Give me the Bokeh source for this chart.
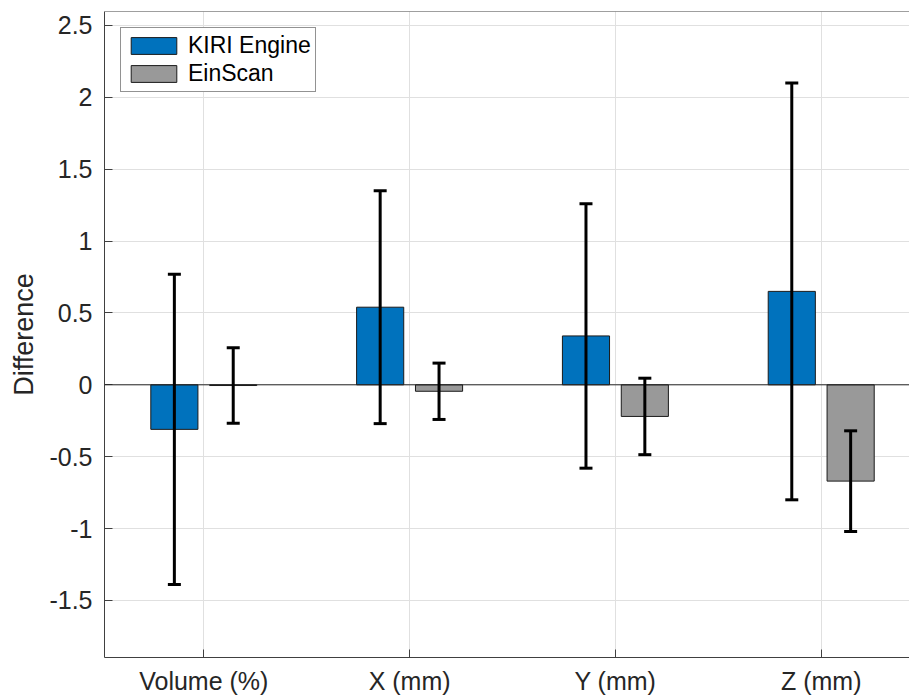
from bokeh.plotting import figure
from bokeh.models import (ColumnDataSource, Whisker, TeeHead, Span, FixedTicker,
                          Range1d)
from bokeh.embed import file_html
from bokeh.resources import INLINE

# ---- data ----
categories = ["Volume (%)", "X (mm)", "Y (mm)", "Z (mm)"]
series_names = ["KIRI Engine", "EinScan"]
kiri_mean = [-0.31, 0.54, 0.34, 0.65]
kiri_err = [1.08, 0.81, 0.92, 1.45]
einscan_mean = [-0.005, -0.045, -0.22, -0.67]
einscan_err = [0.262, 0.196, 0.266, 0.35]
y_ticks = [-1.5, -1.0, -0.5, 0.0, 0.5, 1.0, 1.5, 2.0, 2.5]
y_tick_labels = ["-1.5", "-1", "-0.5", "0", "0.5", "1", "1.5", "2", "2.5"]
colors = ["#0072BD", "#999999"]

FONT = "Liberation Sans"
TXT = "#262626"

idx = list(range(1, len(categories) + 1))
offset = 0.143
bar_w = 0.229

p = figure(width=909, height=698, output_backend="svg", toolbar_location=None,
           x_range=Range1d(0.5175, 4.429), y_range=Range1d(-1.897, 2.597),
           min_border_left=104, min_border_top=11, min_border_bottom=41,
           min_border_right=0)
p.outline_line_color = None
p.background_fill_color = "white"

srcs = []
for k, (means, errs) in enumerate([(kiri_mean, kiri_err), (einscan_mean, einscan_err)]):
    xs = [i + (offset if k else -offset) for i in idx]
    src = ColumnDataSource(dict(x=xs, top=means,
                                upper=[m + e for m, e in zip(means, errs)],
                                lower=[m - e for m, e in zip(means, errs)]))
    p.vbar(x="x", top="top", bottom=0, width=bar_w, source=src,
           fill_color=colors[k], line_color="#1a1a1a", line_width=1,
           legend_label=series_names[k])
    srcs.append(src)

# zero baseline
p.add_layout(Span(location=0, dimension="width", line_color="#262626", line_width=1))

for src in srcs:
    p.add_layout(Whisker(source=src, base="x", upper="upper", lower="lower",
                         level="overlay",
                         line_color="black", line_width=3,
                         upper_head=TeeHead(size=13, line_width=3, line_color="black"),
                         lower_head=TeeHead(size=13, line_width=3, line_color="black")))

# top border line
p.add_layout(Span(location=2.597, dimension="width", line_color="#404040", line_width=1))

# axes
p.xaxis.ticker = FixedTicker(ticks=idx)
p.xaxis.major_label_overrides = {i: c for i, c in zip(idx, categories)}
p.yaxis.ticker = FixedTicker(ticks=y_ticks)
p.yaxis.major_label_overrides = {t: l for t, l in zip(y_ticks, y_tick_labels)}
for ax in (p.xaxis, p.yaxis):
    ax.major_tick_in = 8
    ax.major_tick_out = 0
    ax.minor_tick_in = 0
    ax.minor_tick_out = 0
    ax.axis_line_color = "#404040"
    ax.major_tick_line_color = "#404040"
    ax.major_label_text_font = FONT
    ax.major_label_text_font_size = "25px"
    ax.major_label_text_color = TXT
p.xaxis.major_label_standoff = 9
p.yaxis.major_label_standoff = 12
p.yaxis.axis_label = "Difference"
p.yaxis.axis_label_text_font = FONT
p.yaxis.axis_label_text_font_size = "27px"
p.yaxis.axis_label_text_font_style = "normal"
p.yaxis.axis_label_text_color = TXT
p.yaxis.axis_label_standoff = 7

p.xgrid.ticker = FixedTicker(ticks=idx)
p.ygrid.ticker = FixedTicker(ticks=y_ticks)
p.grid.grid_line_color = "#e0e0e0"
p.grid.grid_line_width = 1

# legend
lg = p.legend[0]
lg.location = "top_left"
lg.margin = 16
lg.padding = 4
lg.spacing = 1
lg.glyph_width = 57
lg.glyph_height = 21
lg.label_standoff = 6
lg.label_text_font = FONT
lg.label_text_font_size = "23px"
lg.label_text_color = "black"
lg.border_line_color = "#262626"
lg.border_line_width = 1
lg.background_fill_alpha = 1.0

open("out.html", "w").write(file_html(p, INLINE))
